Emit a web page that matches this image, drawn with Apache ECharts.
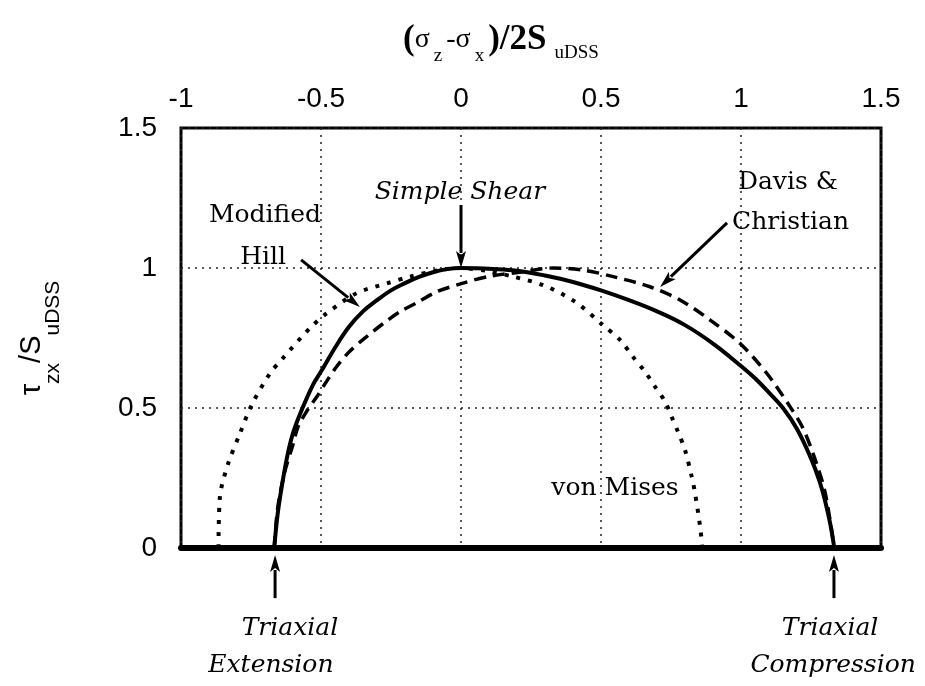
<!DOCTYPE html>
<html>
<head>
<meta charset="utf-8">
<script src="https://cdn.jsdelivr.net/npm/echarts@6/dist/echarts.min.js"></script>
<style>
  html, body { margin: 0; padding: 0; background: #fff; }
  #chart { width: 925px; height: 686px; }
</style>
</head>
<body>
<div id="chart"></div>
<script>
// Normalised stress axes
const xRange = [-1, 1.5];
const yRange = [0, 1.5];
const tickStep = 0.5;

// Modified Hill yield surface (solid)
const hillX = [-0.667, -0.655, -0.64, -0.62, -0.6, -0.57, -0.53, -0.5, -0.45, -0.4, -0.35, -0.3, -0.25, -0.2, -0.15, -0.1, -0.05, 0, 0.05, 0.1, 0.2, 0.3, 0.4, 0.5, 0.6, 0.7, 0.8, 0.9, 1.0, 1.05, 1.1, 1.15, 1.2, 1.25, 1.28, 1.3, 1.32, 1.333];
const hillY = [0, 0.12, 0.22, 0.33, 0.41, 0.49, 0.58, 0.63, 0.715, 0.79, 0.845, 0.885, 0.92, 0.946, 0.968, 0.985, 0.996, 1.0, 0.999, 0.997, 0.99, 0.973, 0.95, 0.92, 0.885, 0.845, 0.796, 0.73, 0.65, 0.606, 0.555, 0.5, 0.425, 0.32, 0.24, 0.17, 0.08, 0];

// Davis & Christian yield surface (dashed)
const davisX = [-0.667, -0.655, -0.63, -0.6, -0.582, -0.55, -0.515, -0.48, -0.444, -0.4, -0.337, -0.28, -0.218, -0.15, -0.087, 0.007, 0.1, 0.21, 0.33, 0.44, 0.54, 0.675, 0.782, 0.89, 0.996, 1.092, 1.175, 1.22, 1.26, 1.3, 1.333];
const davisY = [0, 0.14, 0.27, 0.37, 0.433, 0.49, 0.54, 0.595, 0.648, 0.7, 0.755, 0.8, 0.844, 0.88, 0.915, 0.946, 0.97, 0.985, 1.0, 0.992, 0.97, 0.933, 0.886, 0.814, 0.731, 0.624, 0.505, 0.43, 0.33, 0.2, 0];

// von Mises yield surface (dotted)
const misesX = [-0.866, -0.861, -0.832, -0.789, -0.748, -0.682, -0.636, -0.539, -0.48, -0.373, -0.265, -0.182, -0.09, 0, 0.09, 0.182, 0.293, 0.407, 0.507, 0.568, 0.614, 0.657, 0.693, 0.729, 0.752, 0.775, 0.8, 0.824, 0.836, 0.854, 0.862];
const misesY = [0, 0.183, 0.3, 0.41, 0.51, 0.624, 0.678, 0.786, 0.838, 0.91, 0.945, 0.969, 0.99, 1.0, 0.99, 0.97, 0.939, 0.88, 0.796, 0.743, 0.683, 0.63, 0.576, 0.523, 0.469, 0.415, 0.35, 0.255, 0.195, 0.076, 0];

// Annotation text, anchored in data units
const notes = [
  { text: 'Modified', at: [-0.70, 1.189], italic: false, align: 'center' },
  { text: 'Hill', at: [-0.707, 1.036], italic: false, align: 'center' },
  { text: 'Davis &', at: [0.989, 1.307], italic: false, align: 'left' },
  { text: 'Christian', at: [0.968, 1.161], italic: false, align: 'left' },
  { text: 'Simple Shear', at: [-0.004, 1.271], italic: true, align: 'center' },
  { text: 'von Mises', at: [0.55, 0.214], italic: false, align: 'center' },
  { text: 'Triaxial', at: [-0.611, -0.286], italic: true, align: 'center' },
  { text: 'Extension', at: [-0.679, -0.418], italic: true, align: 'center' },
  { text: 'Triaxial', at: [1.318, -0.286], italic: true, align: 'center' },
  { text: 'Compression', at: [1.329, -0.418], italic: true, align: 'center' }
];

// Pointer arrows: [tail, tip] in data units
const arrows = [
  [[0, 1.225], [0, 1.0]],
  [[-0.571, 1.029], [-0.361, 0.861]],
  [[0.95, 1.161], [0.711, 0.932]],
  [[-0.664, -0.179], [-0.664, -0.025]],
  [[1.332, -0.179], [1.332, -0.025]]
];

const zip = (xs, ys) => xs.map((x, i) => [x, ys[i]]);

const chart = echarts.init(document.getElementById('chart'), null, { renderer: 'canvas' });

const gridLine = { show: true, lineStyle: { color: '#222', width: 1.5, type: [2, 5] } };
const tickFont = { fontFamily: '"Liberation Sans", Arial, sans-serif', fontSize: 28, color: '#000' };

chart.setOption({
  backgroundColor: '#fff',
  animation: false,
  grid: { left: 181, top: 128, width: 700, height: 420, show: true, borderColor: '#000', borderWidth: 3, backgroundColor: 'transparent' },
  xAxis: [
    {
      type: 'value', position: 'top', min: xRange[0], max: xRange[1], interval: tickStep,
      axisLine: { show: false }, axisTick: { show: false },
      splitLine: gridLine,
      axisLabel: Object.assign({ margin: 15 }, tickFont)
    },
    {
      type: 'value', position: 'bottom', min: xRange[0], max: xRange[1], interval: tickStep,
      axisLine: { show: true, onZero: false, lineStyle: { color: '#000', width: 6 } },
      axisTick: { show: false }, axisLabel: { show: false }, splitLine: { show: false }
    }
  ],
  yAxis: {
    type: 'value', min: yRange[0], max: yRange[1], interval: tickStep,
    axisLine: { show: false }, axisTick: { show: false },
    splitLine: gridLine,
    axisLabel: Object.assign({ margin: 24 }, tickFont)
  },
  series: [
    {
      name: 'von Mises', type: 'line', data: zip(misesX, misesY), showSymbol: false, smooth: 0.3,
      lineStyle: { color: '#000', width: 4, type: [4, 8], cap: 'butt' }, z: 3
    },
    {
      name: 'Davis & Christian', type: 'line', data: zip(davisX, davisY), showSymbol: false, smooth: 0.3,
      lineStyle: { color: '#000', width: 3.5, type: [12, 7] }, z: 4
    },
    {
      name: 'Modified Hill', type: 'line', data: zip(hillX, hillY), showSymbol: false, smooth: 0.4,
      lineStyle: { color: '#000', width: 4 }, z: 5
    }
  ]
});

// Annotations placed through the grid's coordinate system
const toPx = p => chart.convertToPixel({ gridIndex: 0 }, p);
const serif = '"DejaVu Serif", "Liberation Serif", serif';
const graphics = [];

notes.forEach(n => {
  const [px, py] = toPx(n.at);
  graphics.push({
    type: 'text', x: px, y: py, z: 10,
    style: {
      text: n.text, fill: '#000', fontFamily: serif, fontSize: 25,
      fontStyle: n.italic ? 'italic' : 'normal',
      align: n.align, verticalAlign: 'middle'
    }
  });
});

arrows.forEach(([tail, tip]) => {
  const a = toPx(tail), b = toPx(tip);
  const dx = b[0] - a[0], dy = b[1] - a[1];
  const len = Math.hypot(dx, dy);
  const ux = dx / len, uy = dy / len;
  const headLen = 17, headHalf = 5;
  const base = [b[0] - ux * headLen, b[1] - uy * headLen];
  graphics.push({
    type: 'line', z: 10,
    shape: { x1: a[0], y1: a[1], x2: base[0] + ux * 2, y2: base[1] + uy * 2 },
    style: { stroke: '#000', lineWidth: 3 }
  });
  graphics.push({
    type: 'polygon', z: 10,
    shape: { points: [b, [base[0] - uy * headHalf, base[1] + ux * headHalf], [base[0] + ux * 4, base[1] + uy * 4], [base[0] + uy * headHalf, base[1] - ux * headHalf]] },
    style: { fill: '#000' }
  });
});

// Axis titles with subscripts
const titleSerif = '"Liberation Serif", serif';
graphics.push({
  type: 'text', x: 501, y: 44, z: 10,
  style: {
    text: '{b|(}{n|σ}{s|z}{n|-σ}{s|x}{b|)/2S}{t|uDSS}',
    align: 'center', verticalAlign: 'middle',
    rich: {
      b: { fontFamily: titleSerif, fontWeight: 'bold', fontSize: 35, lineHeight: 34, padding: [0, 0, 8, 0], fill: '#000' },
      n: { fontFamily: titleSerif, fontSize: 28, lineHeight: 34, padding: [0, 0, 8, 0], fill: '#000' },
      s: { fontFamily: titleSerif, fontSize: 19, lineHeight: 18, padding: [24, 4, 0, 4], fill: '#000' },
      t: { fontFamily: titleSerif, fontSize: 19, lineHeight: 18, padding: [21, 0, 3, 8], fill: '#000' }
    }
  }
});

graphics.push({
  type: 'text', x: 40, y: 338, rotation: Math.PI / 2, z: 10,
  style: {
    text: '{n|τ}{s|zx}{n|/S}{s|uDSS}',
    align: 'center', verticalAlign: 'middle',
    rich: {
      n: { fontFamily: '"Liberation Sans", sans-serif', fontSize: 29, lineHeight: 30, padding: [0, 0, 16, 0], fill: '#000' },
      s: { fontFamily: '"Liberation Sans", sans-serif', fontSize: 21, lineHeight: 20, padding: [26, 0, 0, 0], fill: '#000' }
    }
  }
});

chart.setOption({ graphic: graphics });
</script>
</body>
</html>
